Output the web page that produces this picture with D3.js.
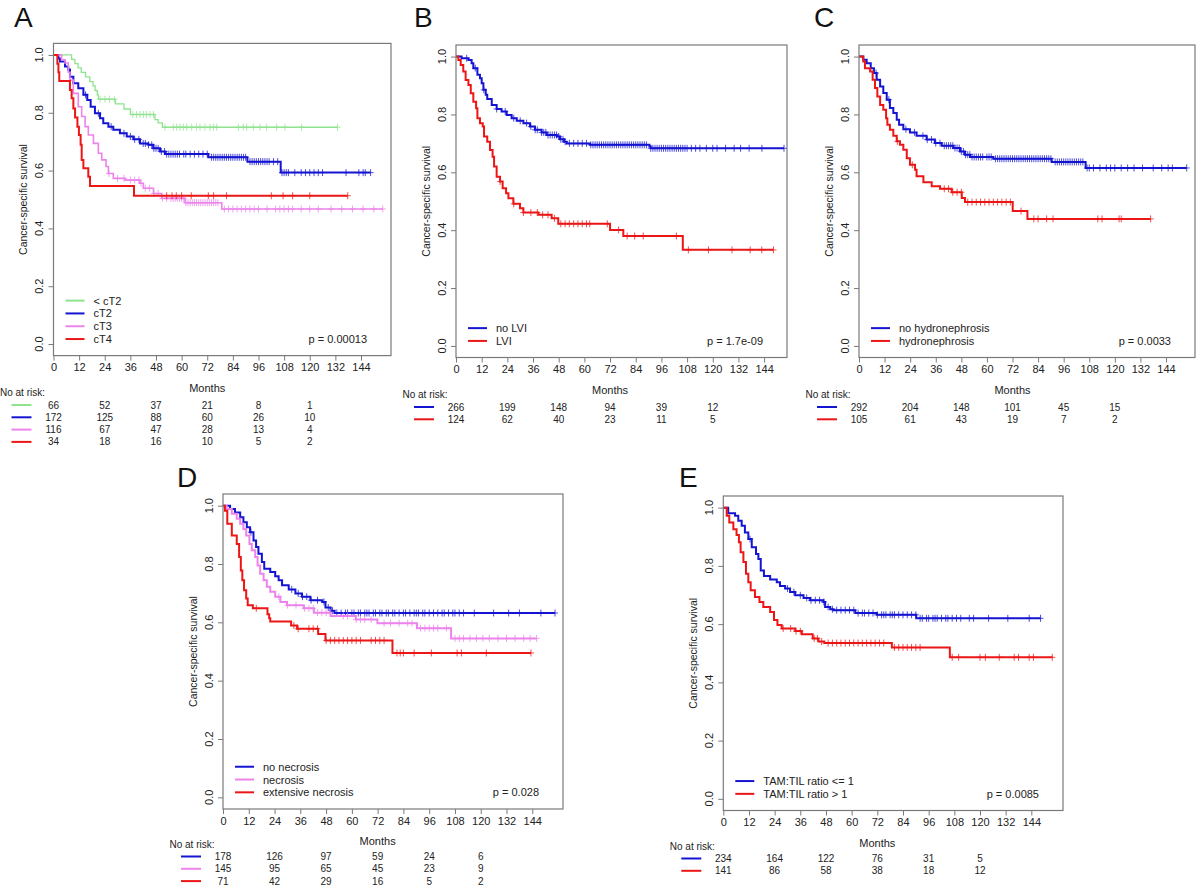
<!DOCTYPE html>
<html>
<head>
<meta charset="utf-8">
<script src="https://cdn.jsdelivr.net/npm/d3@7"></script>
<style>
  body { margin: 0; background: #fff; }
  svg { display: block; }
  text { font-family: "Liberation Sans", Arial, sans-serif; fill: #222; }
</style>
</head>
<body>
<div id="chart"></div>
<script>
// ---------- shared axis values ----------
const monthTicks = [0, 12, 24, 36, 48, 60, 72, 84, 96, 108, 120, 132, 144]
const survTicks = [0, 0.2, 0.4, 0.6, 0.8, 1.0]
const riskMonths = [0, 24, 48, 72, 96, 120]

// ---------- panel A : clinical T stage ----------
const aLabels = ['< cT2', 'cT2', 'cT3', 'cT4']
const aPvalue = 'p = 0.00013'
const aT1Steps = [[8.5, 0.985], [10, 0.97], [11.5, 0.955], [13, 0.94], [15, 0.924], [17, 0.908], [18.5, 0.893], [19.5, 0.877], [20.5, 0.862], [21, 0.847], [29, 0.831], [33, 0.813], [36, 0.794], [47.5, 0.776], [49, 0.765], [51, 0.75]]
const aT1Cens = [21.8, 24.1, 26.2, 28.5, 37.1, 38.9, 40.5, 42.1, 43.6, 45.2, 46.8, 52.2, 56.1, 57.7, 59.3, 60.8, 62.4, 64.7, 67, 68.6, 70.9, 73.3, 74.9, 76.4, 86.6, 88.9, 90.5, 93.6, 96.7, 99.8, 104.5, 108.4, 116.2, 133]
const aT2Steps = [[2.3, 0.988], [3, 0.977], [5.4, 0.96], [6.9, 0.95], [7.7, 0.925], [9.3, 0.902], [11.6, 0.885], [14, 0.862], [15.8, 0.844], [17.4, 0.821], [19.4, 0.798], [21.8, 0.781], [23.3, 0.764], [25.7, 0.752], [28, 0.741], [31.1, 0.729], [34.3, 0.718], [37.4, 0.708], [40.5, 0.694], [44.4, 0.689], [46.7, 0.677], [49.9, 0.666], [52.2, 0.657], [72.5, 0.646], [90.8, 0.631], [106.4, 0.593]]
const aT2Cens = [15, 21, 27, 33, 36, 38, 40, 42, 43, 44.5, 46, 47, 48, 49, 50.5, 52, 53, 54, 55, 56, 57, 58, 59, 61, 62, 64, 66, 68, 70, 72, 74, 75, 76, 77, 78, 79, 80, 81, 82, 83, 84, 85, 86, 87, 88, 89, 90, 92, 93, 94, 95, 96, 97, 98, 99, 100, 101, 103, 105, 107, 108, 109, 110, 113, 116, 118, 120, 122, 124, 126, 137, 143, 145, 146, 148.5]
const aT3Steps = [[3.8, 0.983], [5.4, 0.972], [6.9, 0.94], [7.7, 0.913], [9.3, 0.867], [11.6, 0.821], [13.2, 0.787], [14.8, 0.752], [16.3, 0.723], [18.7, 0.694], [21, 0.66], [22.6, 0.637], [24.6, 0.614], [25.7, 0.59], [28, 0.573], [33.5, 0.567], [40.5, 0.556], [42.1, 0.539], [46.8, 0.521], [50.7, 0.504], [61.6, 0.489], [78.8, 0.467]]
const aT3Cens = [26, 30, 33, 36, 38, 40, 41, 43, 45, 47, 49, 51, 53, 55, 56, 57, 58, 59, 60, 61, 62, 63, 64, 65, 66, 67, 68, 69, 70, 71, 72, 73, 74, 75, 76, 77, 80, 82, 84, 86, 88, 90, 92, 94, 96, 100, 104, 106, 108, 110, 112, 116, 120, 124, 130, 135, 140, 145, 150, 154.2]
const aT4Steps = [[1.8, 0.97], [2.3, 0.94], [2.7, 0.91], [7.7, 0.879], [8.5, 0.85], [9.3, 0.815], [10.1, 0.784], [11.2, 0.752], [11.9, 0.723], [12.7, 0.689], [13.2, 0.637], [14, 0.608], [16.3, 0.579], [17.1, 0.547], [37.7, 0.513]]
const aT4Cens = [53, 55.5, 57.5, 60, 64.5, 72.5, 75, 81, 102, 107.5, 112, 120, 137.8]
const aRiskT1 = [66, 52, 37, 21, 8, 1]
const aRiskT2 = [172, 125, 88, 60, 26, 10]
const aRiskT3 = [116, 67, 47, 28, 13, 4]
const aRiskT4 = [34, 18, 16, 10, 5, 2]

// ---------- panel B : LVI ----------
const bLabels = ['no LVI', 'LVI']
const bPvalue = 'p = 1.7e-09'
const bNoSteps = [[2.6, 0.994], [5.8, 0.988], [7.3, 0.977], [8.1, 0.96], [10, 0.937], [11.2, 0.925], [12, 0.908], [12.8, 0.885], [13.9, 0.868], [14.6, 0.853], [16.7, 0.833], [19, 0.819], [21.3, 0.81], [23.7, 0.798], [26, 0.787], [28.4, 0.778], [31.5, 0.77], [34.6, 0.758], [36.9, 0.747], [40, 0.738], [42.4, 0.729], [47.1, 0.724], [48.6, 0.714], [50.5, 0.706], [51.7, 0.7], [62.6, 0.695], [90.4, 0.689], [91, 0.683]]
const bNoCens = [5, 9, 13, 19, 23, 27, 30, 33, 35, 37, 38, 40, 41, 42, 43, 44, 45, 46, 47, 48, 49, 50, 51, 53, 55, 57, 59, 61, 63, 64, 65, 66, 67, 68, 69, 70, 71, 72, 73, 74, 75, 76, 77, 78, 79, 80, 81, 82, 83, 84, 85, 86, 87, 88, 89, 91, 92, 93, 94, 95, 96, 97, 98, 99, 100, 101, 102, 103, 104, 105, 106, 107, 108, 110, 112, 114, 117, 120, 122, 126, 130, 133, 137, 143, 153.3]
const bYesSteps = [[1.1, 0.988], [2.2, 0.971], [3.4, 0.948], [4.5, 0.919], [5.8, 0.902], [6.9, 0.873], [8.1, 0.844], [9.4, 0.821], [10, 0.787], [11.2, 0.77], [12.5, 0.758], [13.1, 0.724], [14.6, 0.706], [15.9, 0.677], [17.1, 0.654], [17.8, 0.62], [19, 0.585], [20.6, 0.568], [21.8, 0.545], [23.4, 0.528], [24.5, 0.51], [26.8, 0.491], [29.9, 0.476], [31.5, 0.461], [38.5, 0.453], [44.7, 0.441], [47.8, 0.422], [72, 0.401], [78.2, 0.38], [106, 0.332]]
const bYesCens = [20.6, 27, 31.5, 35, 38, 40.5, 43, 46, 49, 51, 53, 55, 57, 59, 61, 62.5, 70.7, 76, 80, 83.5, 87.5, 103, 108.6, 118, 129, 137.5, 142.9, 148.4]
const bRiskNo = [266, 199, 148, 94, 39, 12]
const bRiskYes = [124, 62, 40, 23, 11, 5]

// ---------- panel C : hydronephrosis ----------
const cLabels = ['no hydronephrosis', 'hydronephrosis']
const cPvalue = 'p = 0.0033'
const cNoSteps = [[2, 0.989], [3.6, 0.977], [5.5, 0.96], [7, 0.943], [8.3, 0.92], [9.9, 0.897], [11.4, 0.874], [13, 0.851], [14.5, 0.822], [16.1, 0.805], [17.7, 0.782], [18.8, 0.764], [20.8, 0.749], [23.9, 0.738], [27, 0.726], [31.7, 0.713], [35.6, 0.701], [38.8, 0.692], [44.2, 0.684], [47.4, 0.672], [49.7, 0.661], [52.1, 0.653], [63, 0.647], [90.4, 0.636], [106.3, 0.615]]
const cNoCens = [8, 14, 22, 26, 30, 32, 34, 36, 38, 40, 41, 42, 43, 44, 45, 46, 47, 48, 49, 50, 51, 52, 53, 54, 55, 56, 57, 58, 60, 61, 62, 64, 65, 66, 67, 68, 69, 70, 71, 72, 73, 74, 75, 76, 77, 78, 79, 80, 81, 82, 83, 84, 85, 86, 87, 88, 89, 90, 92, 93, 94, 95, 96, 97, 98, 99, 100, 101, 102, 103, 104, 105, 107, 108, 110, 113, 116, 118, 120, 123, 126, 129, 133, 138, 142, 145, 147, 153.7]
const cYesSteps = [[2, 0.983], [2.8, 0.96], [5.2, 0.948], [6.4, 0.92], [7.5, 0.891], [8.6, 0.862], [9.9, 0.833], [11.4, 0.816], [12.7, 0.787], [13.3, 0.764], [14.5, 0.747], [16.1, 0.726], [17.7, 0.707], [19.2, 0.695], [20.8, 0.678], [22.4, 0.649], [23.9, 0.626], [26.3, 0.609], [27, 0.586], [30.2, 0.566], [34.1, 0.552], [38, 0.543], [43.5, 0.531], [48.2, 0.511], [49.7, 0.497], [72.1, 0.466], [79, 0.439]]
const cYesCens = [18, 25, 40, 42, 44, 46, 48, 51, 53, 55, 57, 59, 61, 63, 65, 67, 69, 71, 76, 82, 84, 88, 91, 112, 114, 122, 123, 136.8]
const cRiskNo = [292, 204, 148, 101, 45, 15]
const cRiskYes = [105, 61, 43, 19, 7, 2]

// ---------- panel D : necrosis ----------
const dLabels = ['no necrosis', 'necrosis', 'extensive necrosis']
const dPvalue = 'p = 0.028'
const dNoSteps = [[3.3, 0.989], [5.6, 0.977], [8, 0.96], [9.5, 0.943], [11.1, 0.926], [12.6, 0.909], [14.2, 0.881], [15.4, 0.858], [16.5, 0.835], [18.1, 0.807], [19.2, 0.784], [22, 0.773], [24.3, 0.758], [25.9, 0.744], [27.5, 0.727], [30.6, 0.713], [33.7, 0.699], [36.8, 0.688], [40.7, 0.676], [46.2, 0.67], [47.7, 0.651], [50.1, 0.64], [51.9, 0.632]]
const dNoCens = [13, 32, 35, 37, 39, 41, 44, 47, 49, 51, 53, 55, 57, 58, 60, 61, 63, 64, 66, 67, 68, 70, 71, 73, 74, 76, 77, 79, 80, 82, 84, 85, 87, 89, 90, 91, 93, 94, 96, 98, 100, 102, 103, 105, 107, 108, 110, 112, 117, 126, 133, 138, 148, 154.6]
const dNecSteps = [[1.7, 0.989], [4.1, 0.972], [6.4, 0.955], [8, 0.938], [9.5, 0.92], [10.8, 0.898], [12.3, 0.869], [13.4, 0.847], [15, 0.824], [16.1, 0.795], [17.3, 0.767], [18.9, 0.744], [20.4, 0.722], [22, 0.705], [24.3, 0.688], [26.7, 0.67], [29.8, 0.659], [37.6, 0.648], [42.3, 0.633], [50.1, 0.622], [61.8, 0.61], [71.9, 0.597], [90.3, 0.58], [106.2, 0.545]]
const dNecCens = [26, 30, 34, 38, 40, 42, 44, 46, 48, 50, 56, 58, 62, 64, 66, 69, 75, 78, 82, 86, 88, 92, 94, 96, 98, 100, 104, 108, 110, 112, 115, 118, 121, 124, 128, 132, 136, 140, 143, 146]
const dExtSteps = [[0.9, 0.983], [2, 0.938], [4.1, 0.898], [6.4, 0.869], [7.5, 0.824], [8.3, 0.778], [9, 0.744], [9.8, 0.71], [10.8, 0.682], [11.5, 0.659], [13.9, 0.648], [20.7, 0.628], [21.5, 0.614], [22, 0.603], [31.7, 0.589], [34.5, 0.578], [44.3, 0.56], [47.7, 0.538], [78.9, 0.495]]
const dExtCens = [15.5, 33, 35, 40, 42, 44, 48, 50, 52, 54, 56, 58, 60, 62, 64, 69, 71, 73, 75, 81, 82.5, 84, 89, 97, 109, 111, 122.6, 143.4]
const dRiskNo = [178, 126, 97, 59, 24, 6]
const dRiskNec = [145, 95, 65, 45, 23, 9]
const dRiskExt = [71, 42, 29, 16, 5, 2]

// ---------- panel E : TAM:TIL ratio ----------
const eLabels = ['TAM:TIL ratio <= 1', 'TAM:TIL ratio > 1']
const ePvalue = 'p = 0.0085'
const eLowSteps = [[2.3, 0.981], [5.5, 0.972], [7, 0.955], [8.6, 0.938], [10.1, 0.915], [11.7, 0.892], [13.3, 0.864], [15.3, 0.841], [16.4, 0.824], [17.5, 0.784], [19, 0.765], [21.9, 0.753], [25, 0.744], [26.5, 0.731], [28.9, 0.722], [31.2, 0.71], [33.6, 0.699], [37.5, 0.69], [40.6, 0.682], [46.8, 0.676], [47.6, 0.659], [50, 0.651], [51.5, 0.648], [61.7, 0.638], [71.8, 0.632], [90.2, 0.62]]
const eLowCens = [12.5, 30, 33, 36, 39, 41, 43, 45, 47, 49, 51, 53, 55, 57, 59, 61, 63, 65, 66, 68, 70, 72, 74, 75, 76, 78, 79, 80, 82, 84, 86, 88, 90, 92, 93, 95, 96, 98, 99, 100, 102, 104, 105, 107, 109, 111, 115, 117, 124, 133, 143, 148.3]
const eHighSteps = [[1.6, 0.972], [2.8, 0.949], [4.7, 0.926], [6.2, 0.906], [7.3, 0.881], [8.1, 0.847], [9.4, 0.813], [10.6, 0.773], [11.7, 0.744], [12.8, 0.716], [14.8, 0.693], [16.9, 0.676], [18.7, 0.659], [21.9, 0.642], [23.7, 0.614], [25.3, 0.597], [27.3, 0.585], [33.6, 0.576], [36.7, 0.565], [41.8, 0.551], [44.5, 0.54], [47.2, 0.535], [78.8, 0.52], [105.9, 0.486]]
const eHighCens = [28, 31.5, 34, 36, 42.5, 44, 46, 49, 51, 53, 55, 57, 59, 61, 63, 65, 67, 69, 71, 73, 75, 80, 82, 84, 86, 88, 90, 92, 107, 110, 120, 122.5, 129, 136, 138, 143, 145, 153.8]
const eRiskLow = [234, 164, 122, 76, 31, 5]
const eRiskHigh = [141, 86, 58, 38, 18, 12]

// ---------- styles ----------
const green = '#8fe38f', blue = '#1414d2', violet = '#ec84ec', red = '#ec1616'
const axisGrey = '#7a7a7a'

const svg = d3.select('#chart').append('svg')
    .attr('width', 1200)
    .attr('height', 886)

const panels = [
    {
        letter: 'A', lx: 14, ly: 27, left: 53.5, right: 391, top: 43.4, bottom: 355.6, xmax: 158.05, riskY: 49.4, pvalue: aPvalue,
        curves: [
            { label: aLabels[0], steps: aT1Steps, cens: aT1Cens, risk: aRiskT1, color: green, width: 1.3 },
            { label: aLabels[1], steps: aT2Steps, cens: aT2Cens, risk: aRiskT2, color: blue, width: 2 },
            { label: aLabels[2], steps: aT3Steps, cens: aT3Cens, risk: aRiskT3, color: violet, width: 1.6 },
            { label: aLabels[3], steps: aT4Steps, cens: aT4Cens, risk: aRiskT4, color: red, width: 2 }
        ]
    },
    {
        letter: 'B', lx: 414, ly: 27, left: 456, right: 787, top: 45, bottom: 357.5, xmax: 154.7, riskY: 49.5, pvalue: bPvalue,
        curves: [
            { label: bLabels[0], steps: bNoSteps, cens: bNoCens, risk: bRiskNo, color: blue, width: 2 },
            { label: bLabels[1], steps: bYesSteps, cens: bYesCens, risk: bRiskYes, color: red, width: 2 }
        ]
    },
    {
        letter: 'C', lx: 814, ly: 27, left: 859, right: 1195, top: 45, bottom: 357.5, xmax: 157.6, riskY: 49.5, pvalue: cPvalue,
        curves: [
            { label: cLabels[0], steps: cNoSteps, cens: cNoCens, risk: cRiskNo, color: blue, width: 2 },
            { label: cLabels[1], steps: cYesSteps, cens: cYesCens, risk: cRiskYes, color: red, width: 2 }
        ]
    },
    {
        letter: 'D', lx: 177, ly: 487, left: 223, right: 563, top: 494, bottom: 809, xmax: 158.3, riskY: 47.5, pvalue: dPvalue,
        curves: [
            { label: dLabels[0], steps: dNoSteps, cens: dNoCens, risk: dRiskNo, color: blue, width: 2 },
            { label: dLabels[1], steps: dNecSteps, cens: dNecCens, risk: dRiskNec, color: violet, width: 2 },
            { label: dLabels[2], steps: dExtSteps, cens: dExtCens, risk: dRiskExt, color: red, width: 2 }
        ]
    },
    {
        letter: 'E', lx: 679, ly: 487, left: 723.3, right: 1063, top: 496, bottom: 810.5, xmax: 158.8, riskY: 48, pvalue: ePvalue,
        curves: [
            { label: eLabels[0], steps: eLowSteps, cens: eLowCens, risk: eRiskLow, color: blue, width: 2 },
            { label: eLabels[1], steps: eHighSteps, cens: eHighCens, risk: eRiskHigh, color: red, width: 2 }
        ]
    }
]

// survival value of a step curve at month t
function survAt(steps, t) {
    let s = 1
    steps.forEach(d => { if (d[0] <= t) s = d[1] })
    return s
}

function drawPanel(p) {
    const g = svg.append('g')

    const x = d3.scaleLinear().domain([0, p.xmax]).range([p.left, p.right])
    const y = d3.scaleLinear().domain([-0.04, 1.04]).range([p.bottom, p.top])

    // panel letter
    g.append('text')
        .attr('x', p.lx).attr('y', p.ly)
        .attr('font-size', 28)
        .style('fill', '#111')
        .text(p.letter)

    // curves
    const line = d3.line()
        .x(d => x(d[0]))
        .y(d => y(d[1]))
        .curve(d3.curveStepAfter)

    p.curves.forEach(c => {
        const end = d3.max(c.cens)
        const pts = [[0, 1]].concat(c.steps, [[end, c.steps[c.steps.length - 1][1]]])
        g.append('path')
            .attr('d', line(pts))
            .attr('fill', 'none')
            .attr('stroke', c.color)
            .attr('stroke-width', c.width)

        // censor marks
        g.append('g')
            .selectAll('path')
            .data(c.cens)
            .join('path')
            .attr('d', t => {
                const cx = x(t), cy = y(survAt(c.steps, t))
                return `M${cx - 3},${cy}H${cx + 3}M${cx},${cy - 3.5}V${cy + 3.5}`
            })
            .attr('stroke', c.color)
            .attr('stroke-width', 1)
            .attr('opacity', 0.75)
    })

    // box
    g.append('rect')
        .attr('x', p.left).attr('y', p.top)
        .attr('width', p.right - p.left).attr('height', p.bottom - p.top)
        .attr('fill', 'none')
        .attr('stroke', axisGrey)
        .attr('stroke-width', 1.2)

    // x axis
    const xAxis = g.append('g')
        .attr('transform', `translate(0,${p.bottom})`)
        .call(d3.axisBottom(x).tickValues(monthTicks).tickSize(5).tickPadding(3))
    xAxis.select('.domain').remove()
    xAxis.selectAll('line').attr('stroke', axisGrey)
    xAxis.selectAll('text')
        .attr('font-size', 11)
        .attr('font-family', '"Liberation Sans", Arial, sans-serif')
        .style('fill', '#222')

    // y axis (labels parallel to axis, as R draws them)
    const yAxis = g.append('g')
        .attr('transform', `translate(${p.left},0)`)
        .call(d3.axisLeft(y).tickValues(survTicks).tickSize(5).tickFormat(''))
    yAxis.select('.domain').remove()
    yAxis.selectAll('line').attr('stroke', axisGrey)

    g.append('g')
        .selectAll('text')
        .data(survTicks)
        .join('text')
        .attr('transform', d => `translate(${p.left - 10.5},${y(d)}) rotate(-90)`)
        .attr('text-anchor', 'middle')
        .attr('font-size', 11)
        .text(d => d3.format('.1f')(d))

    g.append('text')
        .attr('transform', `translate(${p.left - 26.5},${y(0.5)}) rotate(-90)`)
        .attr('text-anchor', 'middle')
        .attr('font-size', 10.5)
        .text('Cancer-specific survival')

    g.append('text')
        .attr('x', x(72)).attr('y', p.bottom + 36)
        .attr('text-anchor', 'middle')
        .attr('font-size', 11)
        .text('Months')

    // legend inside plot
    const n = p.curves.length
    const y0 = y(0) - 5
    p.curves.forEach((c, i) => {
        const ly = y0 - (n - 1 - i) * 12.8
        g.append('line')
            .attr('x1', p.left + 12).attr('x2', p.left + 31)
            .attr('y1', ly).attr('y2', ly)
            .attr('stroke', c.color).attr('stroke-width', 2)
        g.append('text')
            .attr('x', p.left + 40).attr('y', ly + 4)
            .attr('font-size', 11)
            .text(c.label)
    })
    g.append('text')
        .attr('x', p.right - 24).attr('y', y0 + 4)
        .attr('text-anchor', 'end')
        .attr('font-size', 11)
        .text(p.pvalue)

    // numbers at risk
    g.append('text')
        .attr('x', p.left - 53.5).attr('y', p.bottom + p.riskY - 9)
        .attr('font-size', 10)
        .text('No at risk:')

    p.curves.forEach((c, i) => {
        const ry = p.bottom + p.riskY + i * 12.3
        g.append('line')
            .attr('x1', p.left - 42).attr('x2', p.left - 22)
            .attr('y1', ry).attr('y2', ry)
            .attr('stroke', c.color).attr('stroke-width', 2)
        g.append('g')
            .selectAll('text')
            .data(riskMonths)
            .join('text')
            .attr('x', m => x(m))
            .attr('y', ry + 3.5)
            .attr('text-anchor', 'middle')
            .attr('font-size', 10)
            .text((m, j) => c.risk[j])
    })
}

panels.forEach(drawPanel)
</script>
</body>
</html>
